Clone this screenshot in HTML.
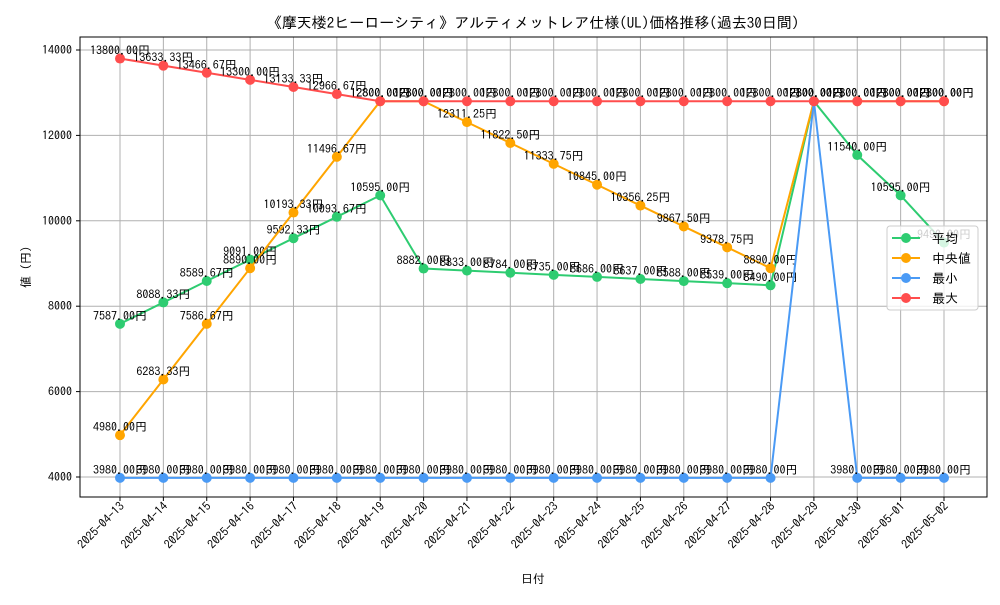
<!DOCTYPE html>
<html><head><meta charset="utf-8"><style>
body{margin:0;background:#fff}
svg{font-family:"IPAGothic","Noto Sans CJK JP",sans-serif}
</style></head><body>
<svg id="c" width="1000" height="600"></svg>
<script>
const dates=["2025-04-13","2025-04-14","2025-04-15","2025-04-16","2025-04-17","2025-04-18","2025-04-19","2025-04-20","2025-04-21","2025-04-22","2025-04-23","2025-04-24","2025-04-25","2025-04-26","2025-04-27","2025-04-28","2025-04-29","2025-04-30","2025-05-01","2025-05-02"];
const avgVals=[7587,8088.33,8589.67,9091,9592.33,10093.67,10595,8882,8833,8784,8735,8686,8637,8588,8539,8490,12800,11540,10595,9490];
const medVals=[4980,6283.33,7586.67,8890,10193.33,11496.67,12800,12800,12311.25,11822.5,11333.75,10845,10356.25,9867.5,9378.75,8890,12800,12800,12800,12800];
const minVals=[3980,3980,3980,3980,3980,3980,3980,3980,3980,3980,3980,3980,3980,3980,3980,3980,12800,3980,3980,3980];
const maxVals=[13800,13633.33,13466.67,13300,13133.33,12966.67,12800,12800,12800,12800,12800,12800,12800,12800,12800,12800,12800,12800,12800,12800];
const yTicks=[4000,6000,8000,10000,12000,14000];
const seriesNames=["平均","中央値","最小","最大"];
const colors=["#2ecc71","#ffa500","#4a9af5","#ff4d4d"];
const L=80,R=987,T=37,B=497;
const x=i=>120+i*(944-120)/(dates.length-1);
const y=v=>477-(v-4000)*(477-50)/10000;
const s=document.getElementById('c');const NS="http://www.w3.org/2000/svg";
function el(t,a,p){const e=document.createElementNS(NS,t);for(const k in a)e.setAttribute(k,a[k]);(p||s).appendChild(e);return e;}
function tx(str,a,p){const e=el('text',a,p);e.textContent=str;return e;}
const t=tx("《摩天楼2ヒーローシティ》アルティメットレア仕様(UL)価格推移(過去30日間)",{x:533,y:28,'text-anchor':'middle','font-size':15});

const grid=el('g',{});
dates.forEach((d,i)=>{el('line',{x1:x(i),x2:x(i),y1:T,y2:B,stroke:'#b0b0b0','stroke-width':1},grid);
el('line',{x1:x(i),x2:x(i),y1:B,y2:B+4,stroke:'#000'},grid);
const lb=tx(d,{x:0,y:0,'font-size':12,'text-anchor':'end',transform:`translate(${x(i)+5},${B+10}) rotate(-45)`});
});
yTicks.forEach(v=>{el('line',{x1:L,x2:R,y1:y(v),y2:y(v),stroke:'#b0b0b0'},grid);
el('line',{x1:L-4,x2:L,y1:y(v),y2:y(v),stroke:'#000'},grid);
const lb=tx(String(v),{x:L-8,y:y(v)+4,'font-size':12,'text-anchor':'end'});
});
const fr=el('rect',{x:L,y:T,width:R-L,height:B-T,fill:'none',stroke:'#000'});

const xt=tx("日付",{x:533,y:583,'font-size':12,'text-anchor':'middle'});

const yt=tx("値 (円)",{x:0,y:0,'font-size':12,'text-anchor':'middle',transform:'translate(30,267) rotate(-90)'});

[avgVals,medVals,minVals,maxVals].forEach((vals,si)=>{
const g=el('g',{});
el('polyline',{points:vals.map((v,i)=>x(i)+','+y(v)).join(' '),fill:'none',stroke:colors[si],'stroke-width':2},g);
vals.forEach((v,i)=>{const c=el('circle',{cx:x(i),cy:y(v),r:5,fill:colors[si]},g);

const lb=tx(v.toFixed(2)+"円",{x:x(i),y:y(v)-4,'font-size':12,'text-anchor':'middle'},g);
});});
const lg=el('g',{});
el('rect',{x:887,y:226,width:91,height:84,rx:3,fill:'#fff','fill-opacity':0.8,stroke:'#ccc'},lg);
seriesNames.forEach((n,i)=>{const yy=238+i*20;
el('line',{x1:892,x2:920,y1:yy,y2:yy,stroke:colors[i],'stroke-width':2},lg);
el('circle',{cx:906,cy:yy,r:5,fill:colors[i]},lg);
const e=tx(n,{x:932,y:yy+5,'font-size':13},lg);});
</script></body></html>
